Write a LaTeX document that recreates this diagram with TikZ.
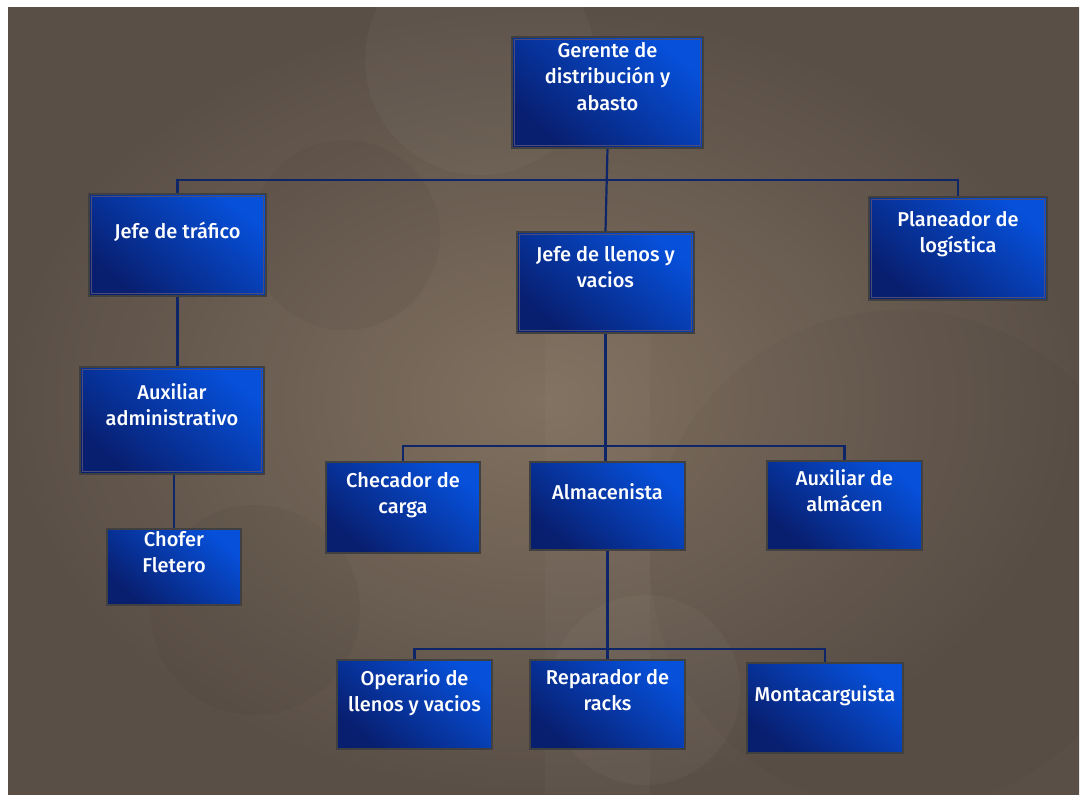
\documentclass[tikz,border=0pt]{standalone}
\usepackage{fontspec}
\IfFontExistsTF{Fira Sans Medium}{\setmainfont{Fira Sans Medium}}{\setmainfont{Fira Sans}}
\begin{document}
\begin{tikzpicture}[x=1pt,y=-1pt,
  box/.style={draw=black!75,line width=1.2pt,top color=boxhi,middle color=boxmid,
    bottom color=boxlo,shading angle=-40,inner sep=0pt},
  frame/.style={draw=black!75!blue!70,line width=1.1pt},
  lbl/.style={text=white,align=center,anchor=north,inner sep=0pt,
    font=\fontsize{20}{26.5}\selectfont},
  link/.style={draw=linkc,line width=2.2pt}]
\definecolor{boxhi}{HTML}{0650DA}
\definecolor{boxmid}{HTML}{0A34A6}
\definecolor{boxlo}{HTML}{081E6E}
\definecolor{linkc}{HTML}{0E2668}
\definecolor{bgin}{HTML}{80705F}
\definecolor{bgout}{HTML}{5A4F47}
% page and background
\fill[white] (0,0) rectangle (1080,796);
\useasboundingbox (0,0) rectangle (1080,796);
\begin{scope}
\clip (8,7) rectangle (1079,794);
\shade[inner color=bgin,outer color=bgout] (8,7) rectangle (1079,794);
% faint decorative discs
\fill[black,opacity=0.035] (345,235) circle (95);
\fill[white,opacity=0.03] (480,60) circle (115);
\fill[black,opacity=0.03] (255,610) circle (105);
\fill[white,opacity=0.03] (645,690) circle (95);
\fill[black,opacity=0.025] (900,560) circle (250);
\fill[white,opacity=0.025] (545,300) rectangle (650,794);
\end{scope}
% boxes
\node[box,minimum width=191,minimum height=111] (gerente) at (607.5,92.5) {};
\node[box,minimum width=177,minimum height=102] (trafico) at (177.5,245) {};
\node[box,minimum width=178,minimum height=103] (planeador) at (958,248.5) {};
\node[box,minimum width=177,minimum height=101] (llenos) at (605.5,282.5) {};
\node[box,minimum width=184,minimum height=107] (auxadm) at (172,420.5) {};
\node[box,minimum width=134,minimum height=76] (chofer) at (174,567) {};
\node[box,minimum width=154,minimum height=91] (checador) at (403,507.5) {};
\node[box,minimum width=155,minimum height=88] (almacenista) at (607.5,506) {};
\node[box,minimum width=155,minimum height=89] (auxalm) at (844.5,505.5) {};
\node[box,minimum width=155,minimum height=89] (operario) at (414.5,704.5) {};
\node[box,minimum width=155,minimum height=89] (reparador) at (607.5,704.5) {};
\node[box,minimum width=156,minimum height=90] (monta) at (825,708) {};
% inner frames of the upper boxes
\foreach \n in {gerente,trafico,planeador,llenos,auxadm}
  \draw[frame] ([xshift=3.5pt,yshift=-3.5pt]\n.north west) rectangle ([xshift=-3.5pt,yshift=3.5pt]\n.south east);
% connectors
\coordinate (busA) at (606,180);
\coordinate (busB) at (606,446);
\coordinate (busC) at (608,649);
\draw[link] (gerente.south) -- (llenos.north);
\draw[link] (trafico.north) |- (busA) -| (planeador.north);
\draw[link] (trafico.south) -- (trafico.south |- auxadm.north);
\draw[link] (auxadm.south -| chofer.north) -- (chofer.north);
\draw[link] (llenos.south) -- (llenos.south |- almacenista.north);
\draw[link] (checador.north) |- (busB) -| (auxalm.north);
\draw[link] (almacenista.south) -- (almacenista.south |- reparador.north);
\draw[link] (operario.north) |- (busC) -| (monta.north);
% labels
\node[lbl] (gerente-t) at (607.5,42) {Gerente de\\distribución y\\abasto};
\node[lbl] (trafico-t) at (177.5,222) {Jefe de tráfico};
\node[lbl] (planeador-t) at (958,211) {Planeador de\\logística};
\node[lbl] (llenos-t) at (605.5,246) {Jefe de llenos y\\vacios};
\node[lbl] (auxadm-t) at (172,383) {Auxiliar\\administrativo};
\node[lbl] (chofer-t) at (174,531) {Chofer\\Fletero};
\node[lbl] (checador-t) at (403,472) {Checador de\\carga};
\node[lbl] (almacenista-t) at (607.5,483) {Almacenista};
\node[lbl] (auxalm-t) at (844.5,469) {Auxiliar de\\almácen};
\node[lbl] (operario-t) at (414.5,669) {Operario de\\llenos y vacios};
\node[lbl] (reparador-t) at (607.5,669) {Reparador de\\racks};
\node[lbl] (monta-t) at (825,685) {Montacarguista};
\end{tikzpicture}
\end{document}
